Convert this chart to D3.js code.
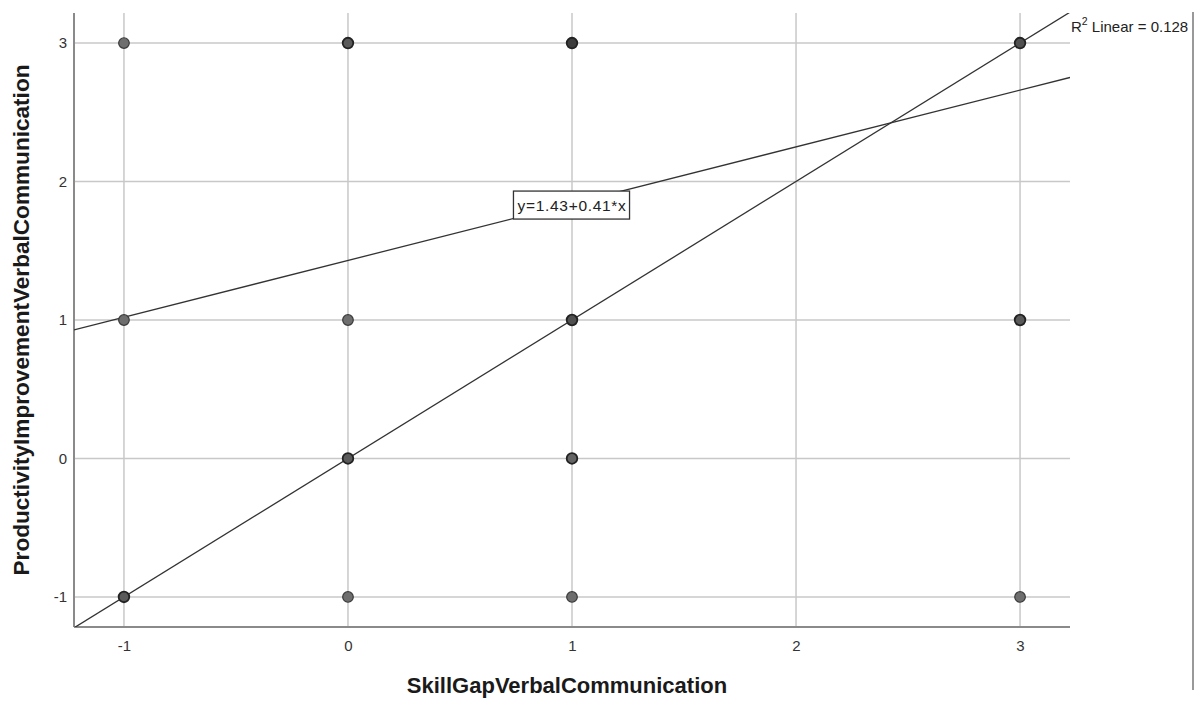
<!DOCTYPE html>
<html>
<head>
<meta charset="utf-8">
<script src="https://cdn.jsdelivr.net/npm/d3@7"></script>
<style>
  body { margin: 0; background: #fff; overflow: hidden; }
  svg { display: block; font-family: "Liberation Sans", Arial, sans-serif; }
</style>
</head>
<body>
<svg id="chart" width="1197" height="702"></svg>
<script>
// Observed cases: skill gap (x), productivity improvement (y), number of cases at that point
const skillGap     = [-1, 0, 1, 3, -1, 0, 1, 3, 0, 1, -1, 0, 1, 3];
const productivity = [ 3, 3, 3, 3,  1, 1, 1, 1, 0, 0, -1, -1, -1, -1];
const caseCount    = [ 1, 3, 6, 4,  1, 1, 4, 3, 3, 2,  3, 1, 1, 1];

const xTicks = [-1, 0, 1, 2, 3];
const yTicks = [-1, 0, 1, 2, 3];

// Linear fit
const intercept = 1.43;
const slope = 0.41;
const rSquared = 0.128;

(function draw() {
  const svg = d3.select("#chart");
  const pL = 74, pR = 1070, pT = 13, pB = 627;

  const x = d3.scaleLinear().domain([-1.223, 3.223]).range([pL, pR]);
  const y = d3.scaleLinear().domain([-1.217, 3.217]).range([pB, pT]);
  const fmt = d => String(d);

  // Grid lines
  const grid = svg.append("g");
  grid.selectAll("line.h").data(yTicks).enter().append("line").attr("class", "h")
    .attr("x1", pL).attr("x2", pR)
    .attr("y1", d => y(d)).attr("y2", d => y(d))
    .attr("stroke", "#c8c8c8").attr("stroke-width", 1.5);
  grid.selectAll("line.v").data(xTicks).enter().append("line").attr("class", "v")
    .attr("x1", d => x(d)).attr("x2", d => x(d))
    .attr("y1", pT).attr("y2", pB)
    .attr("stroke", "#c8c8c8").attr("stroke-width", 1.5);

  // Axes
  const xAxis = svg.append("g").attr("transform", `translate(0,${pB})`)
    .call(d3.axisBottom(x).tickValues(xTicks).tickSize(0).tickPadding(13).tickFormat(fmt));
  const yAxis = svg.append("g").attr("transform", `translate(${pL},0)`)
    .call(d3.axisLeft(y).tickValues(yTicks).tickSize(0).tickPadding(7).tickFormat(fmt));
  [xAxis, yAxis].forEach(g => {
    g.select(".domain").attr("stroke", "#8a8a8a").attr("stroke-width", 2);
    g.selectAll("text").attr("font-size", 15).attr("fill", "#333")
      .attr("font-family", "'Liberation Sans', Arial, sans-serif");
  });
  yAxis.select(".domain").attr("d", `M0,${pB}V${pT}`);
  xAxis.select(".domain").attr("d", `M${pL},0H${pR}`);

  // Right border line of the output frame
  svg.append("line").attr("x1", 1193).attr("x2", 1193).attr("y1", 12).attr("y2", 690)
    .attr("stroke", "#777").attr("stroke-width", 1.5);

  svg.append("clipPath").attr("id", "plotclip").append("rect")
    .attr("x", pL).attr("y", pT).attr("width", pR - pL).attr("height", pB - pT);

  // Reference line y = x
  const lineGen = d3.line().x(d => x(d[0])).y(d => y(d[1]));
  const xd = x.domain();
  svg.append("path").attr("clip-path", "url(#plotclip)")
    .attr("d", lineGen([[xd[0], xd[0]], [xd[1], xd[1]]]))
    .attr("stroke", "#333").attr("stroke-width", 1.3).attr("fill", "none");

  // Fit line
  svg.append("path").attr("clip-path", "url(#plotclip)")
    .attr("d", lineGen([[xd[0], intercept + slope * xd[0]], [xd[1], intercept + slope * xd[1]]]))
    .attr("stroke", "#333").attr("stroke-width", 1.3).attr("fill", "none");

  // Points: darker where more cases overlap
  const pts = skillGap.map((v, i) => ({ x: v, y: productivity[i], n: caseCount[i] }));
  const shade = d3.scaleLinear().domain([1, 6]).range(["#6e6e6e", "#3c3c3c"]).clamp(true);
  svg.append("g").selectAll("circle").data(pts).enter().append("circle")
    .attr("cx", d => x(d.x)).attr("cy", d => y(d.y)).attr("r", 5.3)
    .attr("fill", d => shade(d.n))
    .attr("stroke", d => d.n > 1 ? "#222" : "#3a3a3a").attr("stroke-width", d => d.n > 1 ? 1.8 : 1.2);

  // Fit equation label
  const eqG = svg.append("g").attr("transform", `translate(${x(1.0)},${y(1.83)})`);
  const eqText = eqG.append("text").attr("text-anchor", "middle").attr("dy", "0.36em")
    .attr("font-size", 15.5).attr("letter-spacing", 0.7).attr("fill", "#222")
    .text(`y=${intercept.toFixed(2)}+${slope.toFixed(2)}*x`);
  const bb = eqText.node().getBBox();
  eqG.insert("rect", "text")
    .attr("x", bb.x - 4).attr("y", -14).attr("width", bb.width + 7).attr("height", 28)
    .attr("fill", "#fff").attr("stroke", "#333").attr("stroke-width", 1.3);

  // R squared label
  const r2 = svg.append("text").attr("x", 1071).attr("y", 32).attr("font-size", 15).attr("fill", "#222");
  r2.append("tspan").text("R");
  r2.append("tspan").attr("dy", -7).attr("font-size", 10.5).text("2");
  r2.append("tspan").attr("dy", 7).text(` Linear = ${rSquared.toFixed(3)}`);

  // Axis titles
  svg.append("text").attr("x", 567).attr("y", 693)
    .attr("text-anchor", "middle").attr("font-size", 22).attr("font-weight", "bold").attr("fill", "#1a1a1a")
    .text("SkillGapVerbalCommunication");
  svg.append("text").attr("transform", `translate(29,320) rotate(-90)`)
    .attr("text-anchor", "middle").attr("font-size", 22.6).attr("font-weight", "bold").attr("fill", "#1a1a1a")
    .text("ProductivityImprovementVerbalCommunication");
})();
</script>
</body>
</html>
